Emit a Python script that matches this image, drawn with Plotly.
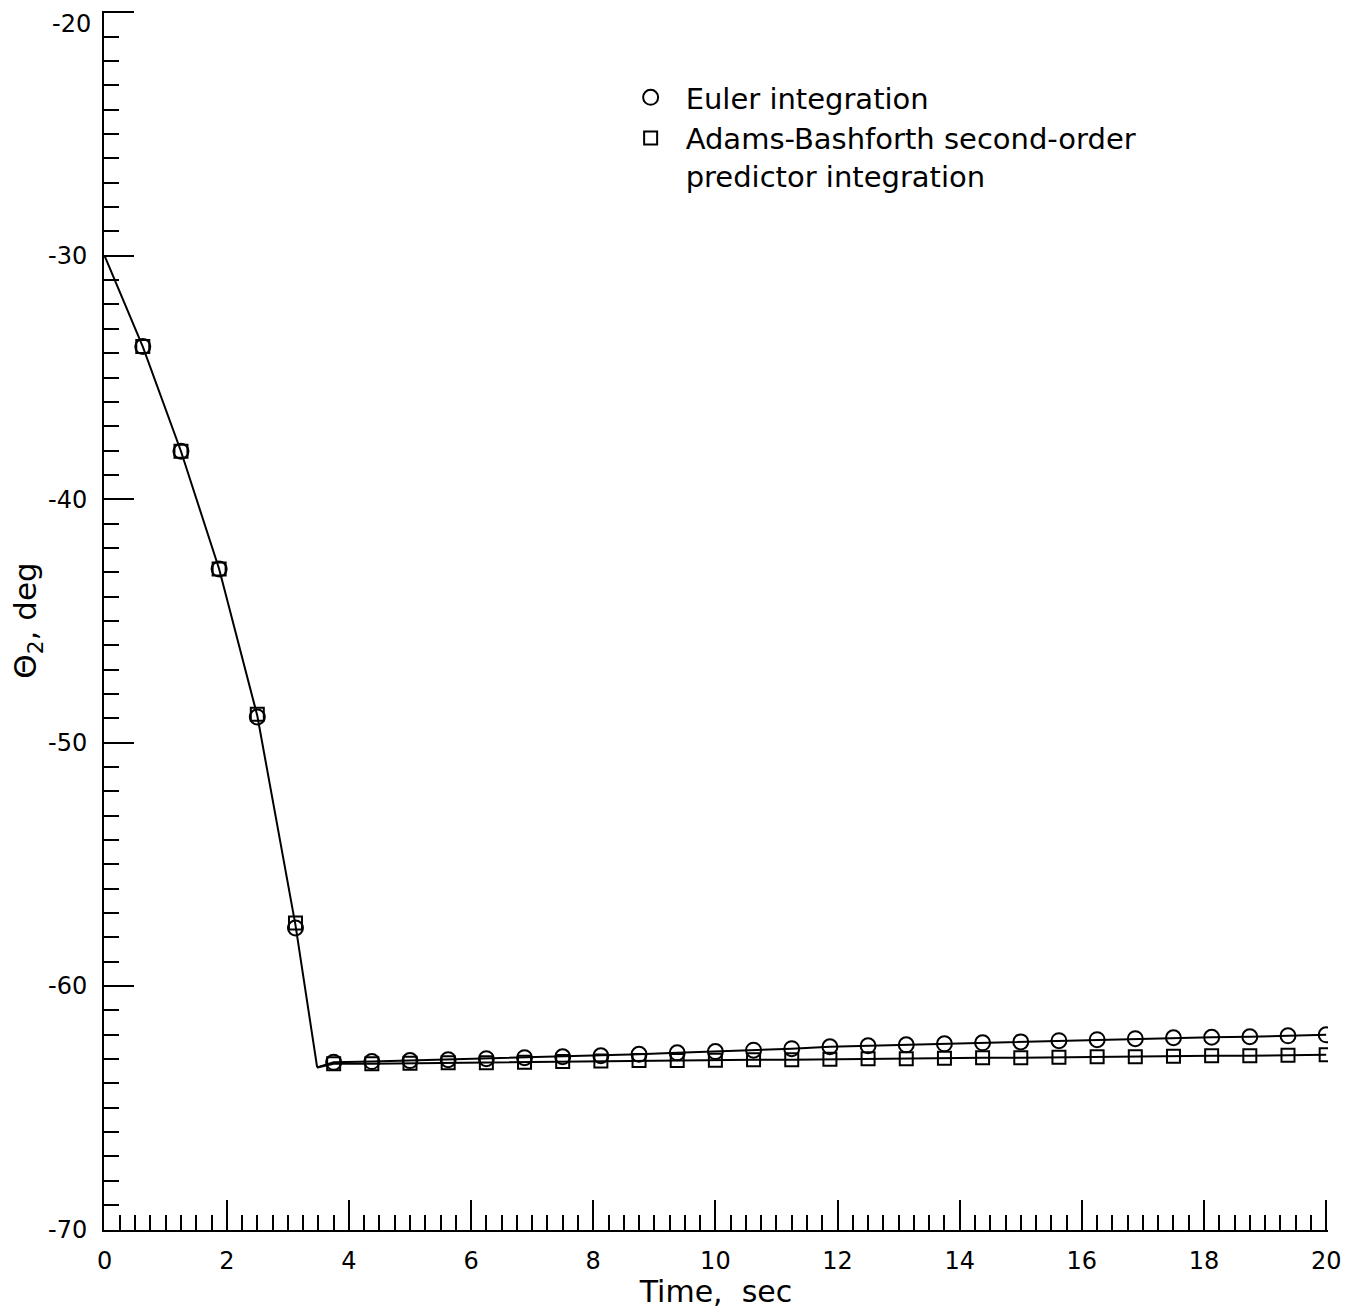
import plotly.graph_objects as go

# Marker times (s)
t_markers = [0.625, 1.25, 1.875, 2.5, 3.125, 3.75, 4.375, 5.0, 5.625, 6.25, 6.875,
             7.5, 8.125, 8.75, 9.375, 10.0, 10.625, 11.25, 11.875, 12.5, 13.125,
             13.75, 14.375, 15.0, 15.625, 16.25, 16.875, 17.5, 18.125, 18.75,
             19.375, 20.0]

euler = [-33.73, -38.03, -42.87, -48.95, -57.62,
         -63.14, -63.11, -63.07, -63.03, -62.99, -62.95, -62.91, -62.87, -62.81, -62.75,
         -62.70, -62.64, -62.58, -62.50, -62.46, -62.42, -62.38, -62.34, -62.30, -62.25,
         -62.21, -62.17, -62.13, -62.11, -62.09, -62.05, -62.01]

adams = [-33.73, -38.03, -42.87, -48.84, -57.42,
         -63.20, -63.20, -63.18, -63.16, -63.16, -63.14, -63.11, -63.09, -63.07, -63.07,
         -63.05, -63.03, -63.03, -63.01, -62.99, -62.99, -62.97, -62.95, -62.95, -62.93,
         -62.91, -62.91, -62.89, -62.87, -62.87, -62.85, -62.83]

# Continuous curves (drop phase shared, then one per method)
t_drop_line = [0.0, 0.625, 1.25, 1.875, 2.5, 3.125, 3.48]
y_drop_line = [-30.0, -33.73, -38.03, -42.87, -48.9, -57.5, -63.35]
t_flat_line = [3.48] + t_markers[5:]
euler_flat_line = [-63.35] + euler[5:]
adams_flat_line = [-63.35] + adams[5:]

x_ticks = [0, 2, 4, 6, 8, 10, 12, 14, 16, 18, 20]
y_ticks = [-70, -60, -50, -40, -30, -20]

FONT = "DejaVu Sans"
line_style = dict(color="black", width=2)

fig = go.Figure()
fig.add_trace(go.Scatter(x=t_drop_line, y=y_drop_line, mode="lines",
                         line=line_style, showlegend=False, hoverinfo="skip"))
fig.add_trace(go.Scatter(x=t_flat_line, y=euler_flat_line, mode="lines",
                         line=line_style, showlegend=False, hoverinfo="skip"))
fig.add_trace(go.Scatter(x=t_flat_line, y=adams_flat_line, mode="lines",
                         line=line_style, showlegend=False, hoverinfo="skip"))
fig.add_trace(go.Scatter(x=t_markers, y=euler, mode="markers", name="Euler integration",
                         marker=dict(symbol="circle-open", size=15, color="black",
                                     line=dict(width=2))))
fig.add_trace(go.Scatter(x=t_markers, y=adams, mode="markers",
                         name="Adams-Bashforth second-order<br>predictor integration",
                         marker=dict(symbol="square-open", size=13, color="black",
                                     line=dict(width=2))))

axis_common = dict(
    showgrid=False, zeroline=False, showline=True, linecolor="black", linewidth=2,
    ticks="inside", ticklen=30, tickwidth=2, tickcolor="black",
    tickfont=dict(family=FONT, size=24, color="black"),
    mirror=False,
)

# top y label is drawn as an annotation (nudged down to stay inside the page, as in the original)
y_ticktext = [str(v) if v != max(y_ticks) else "" for v in y_ticks]

fig.update_xaxes(range=[-0.01, 20.03], tickvals=x_ticks, ticktext=[str(v) for v in x_ticks],
                 minor=dict(dtick=0.25, ticks="inside", ticklen=15, tickwidth=2,
                            tickcolor="black", showgrid=False),
                 title=dict(text="Time,  sec", font=dict(family=FONT, size=30, color="black"),
                            standoff=2),
                 ticklabelstandoff=8,
                 **axis_common)
fig.update_yaxes(range=[-70.03, -19.94], tickvals=y_ticks, ticktext=y_ticktext,
                 minor=dict(dtick=1, ticks="inside", ticklen=15, tickwidth=2,
                            tickcolor="black", showgrid=False),
                 title=dict(text="\u0398<sub>2</sub>, deg",
                            font=dict(family=FONT, size=31, color="black"), standoff=2),
                 ticklabelstandoff=10,
                 **axis_common)

fig.add_annotation(x=0, xref="paper", xanchor="right", xshift=-11,
                   y=max(y_ticks), yref="y", yanchor="middle", yshift=-12,
                   text=str(max(y_ticks)), showarrow=False,
                   font=dict(family=FONT, size=24, color="black"))

fig.update_layout(
    width=1359, height=1309,
    margin=dict(l=104, r=31, t=11, b=76),
    plot_bgcolor="white", paper_bgcolor="white",
    font=dict(family=FONT, color="black"),
    legend=dict(x=0.418, y=0.95, xanchor="left", yanchor="top",
                font=dict(family=FONT, size=29, color="black"),
                bgcolor="rgba(0,0,0,0)", valign="top", tracegroupgap=0,
                itemwidth=60),
)

fig.write_html("out.html")
